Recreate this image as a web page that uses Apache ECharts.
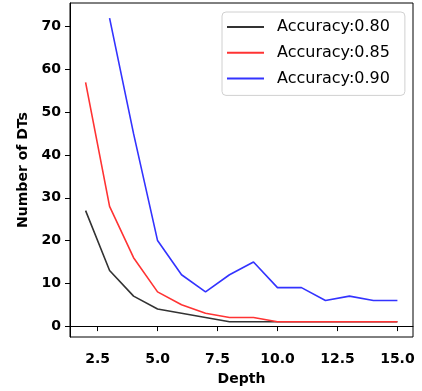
<!DOCTYPE html>
<html>
<head>
<meta charset="utf-8">
<script src="https://cdn.jsdelivr.net/npm/echarts@6/dist/echarts.min.js"></script>
<style>
  html, body { margin: 0; padding: 0; background: #fff; }
  #chart { width: 422px; height: 391px; }
</style>
</head>
<body>
<div id="chart"></div>
<script>
// depth values on x
const depths = [2, 3, 4, 5, 6, 7, 8, 9, 10, 11, 12, 13, 14, 15];
// number of DTs per accuracy level
const acc080 = [27, 13, 7, 4, 3, 2, 1, 1, 1, 1, 1, 1, 1, 1];
const acc085 = [57, 28, 16, 8, 5, 3, 2, 2, 1, 1, 1, 1, 1, 1];
const acc090 = [null, 72, 45, 20, 12, 8, 12, 15, 9, 9, 6, 7, 6, 6];
const xTicks = [2.5, 5.0, 7.5, 10.0, 12.5, 15.0];
const yTicks = [0, 10, 20, 30, 40, 50, 60, 70];

const font = "DejaVu Sans";

const pairs = (ys) => depths.map((d, i) => [d, ys[i]]).filter((p) => p[1] !== null);

const mkSeries = (name, ys, color) => ({
  name: name,
  type: "line",
  data: pairs(ys),
  symbol: "none",
  lineStyle: { color: color, width: 1.6 },
  itemStyle: { color: color },
  animation: false,
});

const option = {
  animation: false,
  grid: {
    left: 70,
    top: 3,
    right: 9,
    bottom: 53,
    show: true,
    borderColor: "#000",
    borderWidth: 1,
  },
  legend: {
    orient: "vertical",
    left: 222,
    top: 12,
    padding: [7, 15, 9, 5],
    icon: "rect",
    itemWidth: 37,
    itemHeight: 2,
    itemGap: 9.7,
    borderColor: "#d0d0d0",
    borderWidth: 1,
    borderRadius: 4,
    backgroundColor: "rgba(255,255,255,0.8)",
    textStyle: { fontFamily: font, fontSize: 16, color: "#000", padding: [0, 0, 0, 8] },
    data: ["Accuracy:0.80", "Accuracy:0.85", "Accuracy:0.90"],
  },
  xAxis: {
    type: "value",
    min: 1.35,
    max: 15.65,
    name: "Depth",
    nameLocation: "middle",
    nameGap: 35,
    nameTextStyle: { fontFamily: font, fontSize: 14, fontWeight: "bold", color: "#000" },
    axisLine: { show: true, lineStyle: { color: "#000", width: 1 } },
    axisTick: { show: true, length: 5, customValues: xTicks, lineStyle: { color: "#000" } },
    axisLabel: {
      customValues: xTicks,
      margin: 15,
      fontFamily: font,
      fontSize: 14,
      fontWeight: "bold",
      color: "#000",
      formatter: (v) => v.toFixed(1),
    },
    splitLine: { show: false },
  },
  yAxis: {
    type: "value",
    min: -2.55,
    max: 75.55,
    name: "Number of DTs",
    nameLocation: "middle",
    nameGap: 40,
    nameTextStyle: { fontFamily: font, fontSize: 14, fontWeight: "bold", color: "#000" },
    axisLine: { show: true, lineStyle: { color: "#000", width: 1 } },
    axisTick: { show: true, length: 5, customValues: yTicks, lineStyle: { color: "#000" } },
    axisLabel: {
      customValues: yTicks,
      margin: 9,
      fontFamily: font,
      fontSize: 14,
      fontWeight: "bold",
      color: "#000",
    },
    splitLine: { show: false },
  },
  series: [
    mkSeries("Accuracy:0.80", acc080, "#333333"),
    mkSeries("Accuracy:0.85", acc085, "#ff3333"),
    mkSeries("Accuracy:0.90", acc090, "#3333ff"),
  ],
};

const myChart = echarts.init(document.getElementById("chart"), null, { renderer: "canvas" });
myChart.setOption(option);
</script>
</body>
</html>
